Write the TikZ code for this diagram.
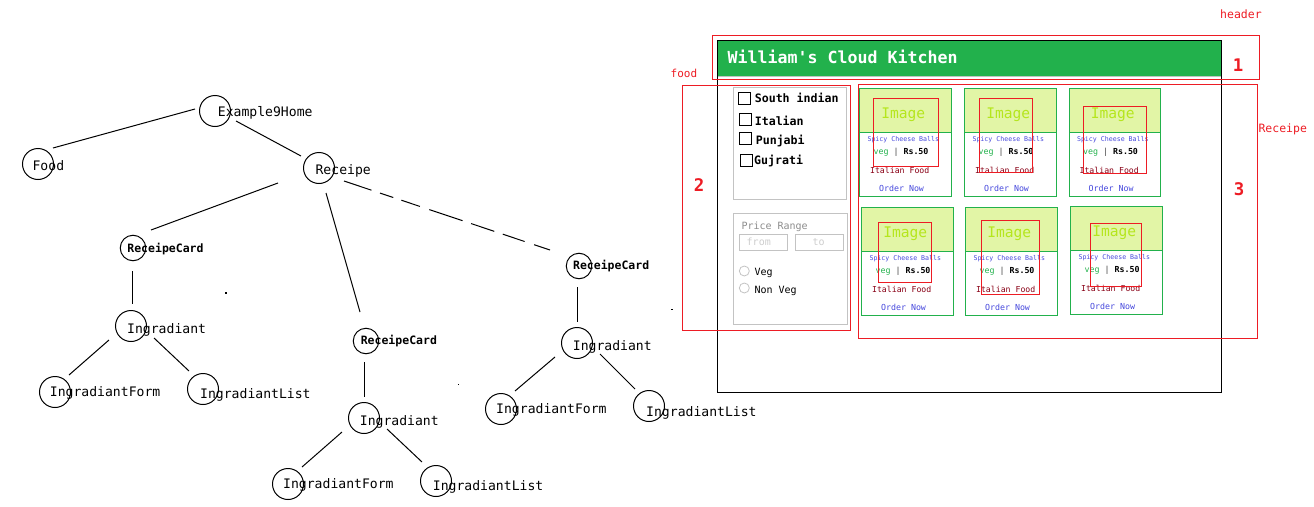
\documentclass[tikz,border=0pt]{standalone}
\usepackage{fontspec}
\newfontfamily\dmono{DejaVu Sans Mono}
\usetikzlibrary{calc}
\definecolor{mred}{RGB}{237,28,36}
\definecolor{mgreen}{RGB}{34,177,76}
\definecolor{imgbg}{RGB}{226,245,166}
\definecolor{imgtxt}{RGB}{181,230,29}
\definecolor{mblue}{RGB}{70,72,220}
\definecolor{mdred}{RGB}{136,0,21}
\definecolor{pgray}{RGB}{195,195,195}
\definecolor{tgray}{RGB}{140,140,140}
\definecolor{lgray}{RGB}{205,205,205}
\begin{document}
\begin{tikzpicture}[x=1pt,y=-1pt,
  tc/.style={circle,draw,line width=1pt,inner sep=0pt,minimum size=31pt},
  sc/.style={circle,draw,line width=1pt,inner sep=0pt,minimum size=25.5pt},
  tl/.style={anchor=base west,inner sep=0pt,font=\dmono\fontsize{13.1}{14}\selectfont},
  tls/.style={anchor=base west,inner sep=0pt,font=\dmono\bfseries\fontsize{11.5}{13}\selectfont},
  edge/.style={line width=1pt},
  redbox/.style={draw=mred,line width=1pt},
  redlab/.style={anchor=base west,inner sep=0pt,text=mred,font=\dmono\fontsize{11.5}{13}\selectfont},
  rednum/.style={anchor=base,inner sep=0pt,text=mred,font=\dmono\bfseries\fontsize{17.4}{19}\selectfont},
  graybox/.style={draw=pgray,line width=1pt},
  chk/.style={draw,line width=1pt},
  fl/.style={anchor=base west,inner sep=0pt,font=\dmono\bfseries\fontsize{11.6}{13}\selectfont},
  rl/.style={anchor=base west,inner sep=0pt,font=\dmono\fontsize{10}{12}\selectfont},
  ctxt/.style={anchor=base,inner sep=0pt},
]
\useasboundingbox (0,0) rectangle (1314,506);

% ---------------- tree ----------------
\node[tc] (ex) at (215,111) {};
\node[tc] (food) at (38,164) {};
\node[tc] (rec) at (319,168) {};
\node[sc] (rc1) at (133,248) {};
\node[tc] (ing1) at (131,326) {};
\node[tc] (form1) at (55,392) {};
\node[tc] (list1) at (203,389) {};
\node[sc] (rc2) at (366,341) {};
\node[tc] (ing2) at (364,418) {};
\node[tc] (form2) at (288,484) {};
\node[tc] (list2) at (436,481) {};
\node[sc] (rc3) at (579,266) {};
\node[tc] (ing3) at (577,343) {};
\node[tc] (form3) at (501,409) {};
\node[tc] (list3) at (649,406) {};

\node[tl] (exL) at (217.7,116) {Example9Home};
\node[tl] (foodL) at (32.4,170) {Food};
\node[tl] (recL) at (315.4,174) {Receipe};
\node[tls] (rc1L) at (127.2,252) {ReceipeCard};
\node[tl] (ing1L) at (127,333.3) {Ingradiant};
\node[tl] (form1L) at (49.7,396) {IngradiantForm};
\node[tl] (list1L) at (200,398.3) {IngradiantList};
\node[tls] (rc2L) at (360.6,344.5) {ReceipeCard};
\node[tl] (ing2L) at (359.7,425.3) {Ingradiant};
\node[tl] (form2L) at (283,488.3) {IngradiantForm};
\node[tl] (list2L) at (432.7,490.3) {IngradiantList};
\node[tls] (rc3L) at (572.9,269) {ReceipeCard};
\node[tl] (ing3L) at (572.7,350.3) {Ingradiant};
\node[tl] (form3L) at (496,413.3) {IngradiantForm};
\node[tl] (list3L) at (646,416) {IngradiantList};

\draw[edge] ($(ex)+(-20,-2)$) -- ($(food)+(15,-16)$);
\draw[edge] ($(ex)+(21,10)$) -- ($(rec)+(-18,-12)$);
\draw[edge] ($(rec)+(-41,15)$) -- ($(rc1)+(18,-18)$);
\draw[edge] ($(rec)+(7,25)$) -- ($(rc2)+(-6,-29)$);
\draw[edge,dash pattern=on 29pt off 9pt on 14pt off 8.5pt on 19.5pt off 10pt on 35pt off 9pt on 24.5pt off 9pt on 23pt off 10pt on 18.6pt off 20pt]
  ($(rec)+(25,13)$) -- ($(rc3)+(-29,-16)$);
\draw[edge] ($(rc1)+(-1,23)$) -- ($(ing1)+(1,-22)$);
\draw[edge] ($(ing1)+(-22,14)$) -- ($(form1)+(14,-17)$);
\draw[edge] ($(ing1)+(23,12)$) -- ($(list1)+(-14,-18)$);
\draw[edge] ($(rc2)+(-2,21)$) -- ($(ing2)+(0,-21)$);
\draw[edge] ($(ing2)+(-22,14)$) -- ($(form2)+(14,-17)$);
\draw[edge] ($(ing2)+(23,11)$) -- ($(list2)+(-14,-19)$);
\draw[edge] ($(rc3)+(-2,21)$) -- ($(ing3)+(0,-21)$);
\draw[edge] ($(ing3)+(-22,14)$) -- ($(form3)+(14,-18)$);
\draw[edge] ($(ing3)+(23,11)$) -- ($(list3)+(-14,-17)$);

% stray dots
\fill (225.4,292.4) rectangle (226.6,293.6);
\fill (457.9,383.9) rectangle (459.1,385.1);
\fill (671.4,308.6) rectangle (672.6,309.8);

% ---------------- mockup ----------------
\draw[line width=1pt] (717.5,40.5) rectangle (1221.5,392.5);
\fill[mgreen] (718,41) rectangle (1221,75.5);
\draw[pgray,line width=1pt] (718,76.5) -- (1221,76.5);
\node[anchor=base west,inner sep=0pt,text=white,font=\dmono\bfseries\fontsize{16.6}{18}\selectfont] (title) at (727.5,63.3) {William's Cloud Kitchen};

\draw[redbox] (712.5,35.5) rectangle (1259.5,79.5);
\node[redlab] (hdrL) at (1220,19) {header};
\node[rednum] (n1) at (1238,71) {1};

\draw[redbox] (682.5,85.5) rectangle (850.5,330.5);
\node[redlab,font=\dmono\fontsize{11}{13}\selectfont] (foodR) at (670.5,77.3) {food};
\node[rednum] (n2) at (699,191.7) {2};

\draw[redbox] (858,84.5) rectangle (1257,338.5);
\node[redlab] (recR) at (1258.3,132) {Receipe};
\node[rednum] (n3) at (1239,195) {3};

% filter panel
\draw[graybox] (733.5,87.5) rectangle (846.5,199.5);
\draw[chk] (738.5,92.5) rectangle (750.5,104.5);
\draw[chk] (739.5,113.5) rectangle (751.5,125.5);
\draw[chk] (739.5,132.5) rectangle (751.5,144.5);
\draw[chk] (740.5,154) rectangle (752.5,166);
\node[fl] (f1) at (754.6,102.7) {South indian};
\node[fl] (f2) at (754.6,125.7) {Italian};
\node[fl] (f3) at (755.6,144.3) {Punjabi};
\node[fl] (f4) at (754,164.3) {Gujrati};

\draw[graybox] (733.5,213.5) rectangle (847.5,324.5);
\node[rl,text=tgray] (pr) at (741.3,229) {Price Range};
\draw[graybox] (739.5,234.5) rectangle (787.5,250.5);
\draw[graybox] (795.5,234.5) rectangle (843.5,250.5);
\node[rl,text=lgray] (from) at (746.5,245.7) {from};
\node[rl,text=lgray] (to) at (812.5,245.7) {to};
\draw[pgray,line width=0.8pt] (744.3,271) circle[radius=5pt];
\draw[pgray,line width=0.8pt] (744.3,288) circle[radius=5pt];
\node[rl] (veg) at (754.3,275.3) {Veg};
\node[rl] (nveg) at (754.3,293.3) {Non Veg};

% cards
\foreach \a/\b/\c/\e/\f [count=\i] in {859/88/951/196/132, 964/88/1056/196/132, 1069/88/1160/196/132,
   861/207/953/315/251, 965/207/1057/315/251, 1070/206/1162/314/250}{
  \fill[imgbg] (\a,\b) rectangle (\c,\f);
  \draw[mgreen,line width=1pt] (\a+0.5,\b+0.5) rectangle (\c+0.5,\e+0.5);
  \draw[mgreen,line width=1pt] (\a,\f+0.5) -- (\c,\f+0.5);
  \pgfmathsetmacro\cx{(\a+\c)/2}
  \node[ctxt,text=imgtxt,font=\dmono\fontsize{14.6}{16}\selectfont] (img\i) at ({\cx-1.7},{\b+30.3}) {Image};
  \node[ctxt,text=mblue,font=\dmono\fontsize{6.6}{8}\selectfont] (name\i) at ({\cx-1.7},{\b+53.7}) {Spicy Cheese Balls};
  \node[ctxt,font=\dmono\fontsize{8.3}{10}\selectfont] (price\i) at ({\cx-4},{\b+66.3}) {\textcolor{mgreen}{veg} \textcolor{darkgray}{|} \textbf{Rs.50}};
  \node[ctxt,text=mdred,font=\dmono\fontsize{8.2}{10}\selectfont] (cat\i) at ({\cx-5.3},{\b+85.3}) {Italian Food};
  \node[ctxt,text=mblue,font=\dmono\fontsize{8.3}{10}\selectfont] (ord\i) at ({\cx-3.5},{\b+103}) {Order Now};
}
\foreach \a/\b/\c/\e in {873/98/938/166, 979/98/1032/172, 1083/106/1146/173,
   878/222/931/282, 981/220/1039/294, 1090/223/1141/286}{
  \draw[redbox] (\a+0.5,\b+0.5) rectangle (\c+0.5,\e+0.5);
}
\end{tikzpicture}
\end{document}
